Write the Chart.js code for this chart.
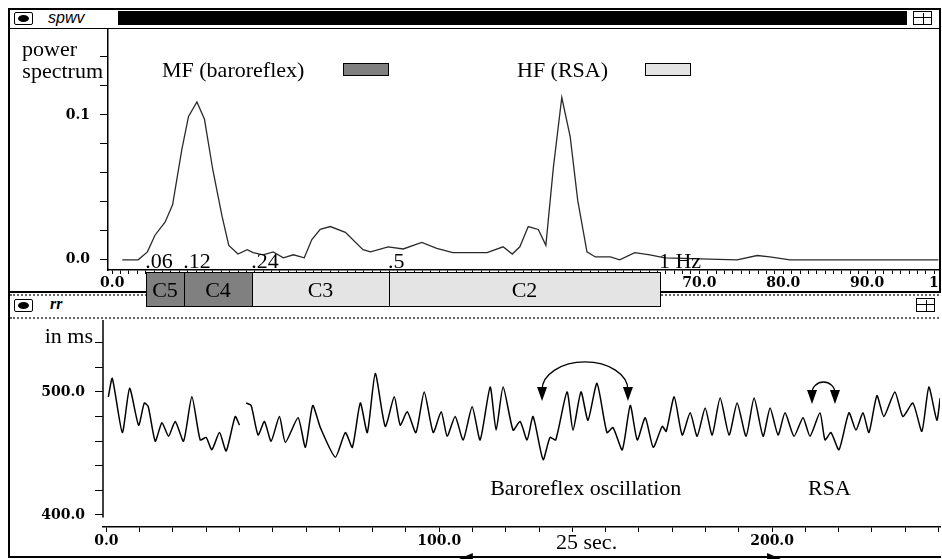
<!DOCTYPE html>
<html>
<head>
<meta charset="utf-8">
<script src="https://cdn.jsdelivr.net/npm/chart.js@4.4.0/dist/chart.umd.min.js"></script>
<style>
  body { margin: 0; width: 942px; height: 559px; background: #fff; position: relative; overflow: hidden; }
  .abs { position: absolute; }
  .frame { left: 8px; top: 8px; width: 933px; height: 285px; border: 2px solid #000; box-sizing: border-box; }
  .dots { left: 10px; width: 929px; height: 0; border-top: 2px dotted #666; }
  .icon { position: absolute; width: 19px; height: 13px; border: 1px solid #000; box-sizing: border-box; border-radius: 2px; }
  .icon span { position: absolute; left: 3px; top: 2px; width: 11px; height: 7px; background: #000; border-radius: 50%; }
  .rsz { position: absolute; width: 19px; height: 14px; border: 1px solid #000; box-sizing: border-box; }
  .rsz i { position: absolute; left: 0; top: 5px; width: 9px; height: 7px; border-top: 1px solid #000; border-right: 1px solid #000; }
  .rsz b { position: absolute; left: 9px; top: 1px; width: 7px; height: 4px; border-left: 1px solid #000; border-bottom: 1px solid #000; }
  .ttl { position: absolute; font: italic 16px "Liberation Sans", sans-serif; }
  #specBox { position: absolute; left: 0; top: 28px; width: 939px; height: 280px; overflow: hidden; z-index: 2; }
  #rr { position: absolute; left: 0; top: 318px; z-index: 1; }
</style>
</head>
<body>
<!-- window chrome -->
<div class="abs frame"></div>
<div class="abs" style="left:10px;top:28px;width:929px;height:1px;background:#000"></div>
<div class="icon" style="left:14px;top:12px"><span></span></div>
<div class="ttl" style="left:48px;top:9px">spwv</div>
<div class="abs" style="left:118px;top:11px;width:789px;height:14px;background:#000"></div>
<div class="rsz" style="left:913px;top:11px"><i></i><b></b></div>
<div class="abs dots" style="top:294px"></div>
<div class="icon" style="left:14px;top:299px"><span></span></div>
<div class="ttl" style="left:50px;top:295px;font:italic bold 16px 'Liberation Serif', serif">rr</div>
<div class="rsz" style="left:916px;top:298px"><i></i><b></b></div>
<div class="abs dots" style="top:317px"></div>
<div class="abs" style="left:8px;top:293px;width:2px;height:265px;background:#000"></div>
<div class="abs" style="left:8px;top:556px;width:933px;height:2px;background:#000"></div>

<div id="specBox"><canvas id="spec" width="980" height="280"></canvas></div>
<canvas id="rr" width="942" height="241"></canvas>

<script>
// power spectrum (x in axis units, y in power)
const spectrumFreq = [1.2, 3.1, 4.2, 5.1, 6.3, 7.2, 8.3, 9.1, 10.1, 11.0,
  12.0, 13.1, 13.9, 15.0, 16.1, 16.8, 18.0, 19.2, 20.4, 21.6,
  22.9, 23.8, 24.8, 26.0, 27.8, 29.9, 30.8, 32.9, 34.7, 36.9,
  38.7, 40.6, 42.7, 44.7, 46.6, 47.7, 48.6, 49.6, 50.8, 51.7,
  52.6, 53.6, 54.6, 55.5, 56.6, 57.6, 59.4, 60.5, 62.3, 64.1,
  65.9, 70.1, 74.5, 76.9, 78.4, 80.8, 98.5];
const spectrumPower = [0, 0, 0.0055, 0.017, 0.026, 0.038, 0.076, 0.099, 0.109, 0.097,
  0.062, 0.030, 0.010, 0.004, 0.007, 0.005, 0.0035, 0.0055, 0.0014, 0.0035,
  0.0014, 0.014, 0.021, 0.023, 0.019, 0.007, 0.0055, 0.009, 0.0075, 0.012,
  0.008, 0.005, 0.005, 0.005, 0.009, 0.004, 0.009, 0.023, 0.021, 0.010,
  0.064, 0.112, 0.085, 0.041, 0.0055, 0.002, 0.002, 0, 0.005, 0.0035,
  0.0014, 0.0007, 0, 0.003, 0.002, 0, 0];

// frequency bands under the spectrum
const bandEdges = [4.05, 8.6, 16.7, 33.0, 65.3];
const bandEdgeLabels = ['.06', '.12', '.24', '.5', '1 Hz'];
const bandNames = ['C5', 'C4', 'C3', 'C2'];
const bandGroup = ['MF', 'MF', 'HF', 'HF'];
const legendNames = { MF: 'MF (baroreflex)', HF: 'HF (RSA)' };
const groupColor = { MF: '#808080', HF: '#e4e4e4' };

const powerTicks = [0, 0.01, 0.02, 0.03, 0.04, 0.05, 0.06, 0.07, 0.08, 0.09, 0.1, 0.11, 0.12, 0.13, 0.14, 0.15];
const powerLabels = ['0.0', '0.1'];

// RR interval series, seconds / ms (null = recording gap)
const rrTime = [0.6, 1.8, 4.8, 7.0, 9.7, 11.4, 12.6, 14.7, 16.7, 18.7,
  20.7, 23.2, 25.7, 28.2, 30.0, 31.7, 34.0, 36.0, 38.7, 40.0,
  41.0, 42.0, 43.5, 45.6, 47.5, 49.5, 52.0, 53.8, 57.6, 59.8,
  62.0, 64.3, 68.8, 71.8, 73.9, 76.3, 78.4, 80.8, 83.8, 86.5,
  88.3, 90.4, 93.0, 95.5, 98.2, 100.6, 102.4, 104.8, 107.2, 109.9,
  112.3, 115.3, 117.1, 119.2, 122.2, 124.3, 126.4, 128.2, 131.2, 133.3,
  135.0, 138.4, 140.2, 142.6, 144.7, 147.4, 150.4, 152.2, 155.0, 157.4,
  159.5, 161.9, 164.3, 167.0, 168.2, 170.6, 173.0, 175.4, 177.5, 179.9,
  182.0, 184.4, 187.1, 189.5, 192.2, 194.6, 197.3, 199.4, 201.8, 203.9,
  206.6, 209.3, 211.4, 214.4, 215.9, 217.7, 220.1, 223.1, 225.2, 227.3,
  229.1, 231.5, 233.6, 236.9, 239.3, 242.3, 245.0, 247.1, 249.5, 250.5];
const rrValue = [496, 511, 467, 503, 473, 491, 488, 460, 475, 464,
  476, 460, 496, 461, 463, 453, 467, 452, 480, 473,
  null, 491, 489, 465, 476, 460, 480, 459, 479, 455,
  489, 471, 447, 467, 455, 491, 467, 515, 472, 496,
  473, 484, 467, 500, 467, 484, 464, 480, 461, 488,
  461, 504, 469, 504, 469, 476, 461, 480, 445, 463,
  461, 500, 469, 500, 477, 507, 467, 471, 453, 489,
  461, 479, 455, 472, 468, 496, 465, 483, 464, 487,
  465, 495, 465, 491, 464, 495, 464, 487, 465, 483,
  464, 479, 464, 483, 461, 467, 453, 483, 469, 483,
  467, 497, 480, 500, 480, 491, 468, 504, 477, 495];

const rrTicks = [0, 10, 20, 30, 40, 50, 60, 70, 80, 90, 100, 110, 120, 130, 140, 150, 160, 170, 180, 190, 200, 210, 220, 230, 240, 250];
const rrTickLabels = ['0.0', '100.0', '200.0'];
const msTicks = [400, 410, 420, 430, 440, 450, 460, 470, 480, 490, 500, 510, 520, 530, 540, 550];
const msLabels = ['400.0', '500.0'];

const serif = '22px "Liberation Serif", serif';
const tickFont = { family: 'DejaVu Serif', weight: 'bold', size: 14 };

const fmt1 = v => (Math.round(v * 100) / 100).toFixed(1);

// keep the plot area fixed: no extra room for tick label overhang
const noPad = s => { s.paddingTop = 0; s.paddingBottom = 0; s.paddingLeft = 0; s.paddingRight = 0; };

// legend, band boxes and axis titles of the spectrum panel
const spectrumNotes = {
  id: 'spectrumNotes',
  afterDraw(chart) {
    const { ctx, scales: { x } } = chart;
    ctx.save();
    ctx.fillStyle = '#000';
    ctx.font = serif;
    ctx.textBaseline = 'alphabetic';
    ctx.textAlign = 'left';
    ctx.fillText('power', 22, 28);
    ctx.textAlign = 'right';
    ctx.fillText('spectrum', 103, 50);

    // legend
    ctx.textAlign = 'left';
    [['MF', 162, 343], ['HF', 517, 645]].forEach(([g, tx, bx]) => {
      ctx.fillStyle = '#000';
      ctx.fillText(legendNames[g], tx, 49);
      ctx.fillStyle = groupColor[g];
      ctx.fillRect(bx, 35, 45, 12);
      ctx.strokeStyle = '#000';
      ctx.lineWidth = 1;
      ctx.strokeRect(bx + 0.5, 35.5, 45, 12);
    });

    // band boxes
    bandNames.forEach((name, i) => {
      const x0 = Math.round(x.getPixelForValue(bandEdges[i]));
      const x1 = Math.round(x.getPixelForValue(bandEdges[i + 1]));
      ctx.fillStyle = groupColor[bandGroup[i]];
      ctx.fillRect(x0, 244, x1 - x0, 34);
      ctx.strokeStyle = '#000';
      ctx.lineWidth = 1;
      ctx.strokeRect(x0 + 0.5, 244.5, x1 - x0, 34);
      ctx.fillStyle = '#000';
      ctx.textAlign = 'center';
      ctx.fillText(name, (x0 + x1) / 2, 269);
    });

    // band edge frequencies
    ctx.textAlign = 'left';
    bandEdgeLabels.forEach((lab, i) => {
      ctx.fillText(lab, x.getPixelForValue(bandEdges[i]) - 1, 240);
    });
    ctx.restore();
  }
};

new Chart(document.getElementById('spec'), {
  type: 'line',
  data: {
    datasets: [{
      data: spectrumFreq.map((f, i) => ({ x: f, y: spectrumPower[i] })),
      borderColor: '#2a2a2a',
      borderWidth: 1.3,
      pointRadius: 0,
      tension: 0
    }]
  },
  options: {
    responsive: false,
    animation: false,
    layout: { padding: { top: 2, right: 29, left: 0, bottom: 0 } },
    plugins: { legend: { display: false }, tooltip: { enabled: false } },
    scales: {
      x: {
        type: 'linear', min: -0.5, max: 100,
        afterBuildTicks: s => {
          const t = [];
          for (let v = 0; v <= 100; v++) t.push({ value: v });
          s.ticks = t;
        },
        afterFit: s => { s.height = 38; noPad(s); },
        grid: { drawOnChartArea: false, tickLength: 4, color: '#000', lineWidth: 1 },
        border: { color: '#000', width: 1.5 },
        ticks: {
          autoSkip: false, maxRotation: 0, padding: 1, color: '#000', font: tickFont,
          callback: v => (v % 10 === 0 ? v.toFixed(1) : '')
        }
      },
      y: {
        min: -0.007, max: 0.1586,
        afterBuildTicks: s => { s.ticks = powerTicks.map(v => ({ value: v })); },
        afterFit: s => { s.width = 108; noPad(s); },
        grid: { drawOnChartArea: false, tickLength: 8, color: '#000', lineWidth: 1 },
        border: { color: '#000', width: 1.5 },
        ticks: {
          padding: 10, color: '#000', font: tickFont,
          callback: v => (powerLabels.includes(fmt1(v)) && Math.abs(v * 10 - Math.round(v * 10)) < 1e-6 ? fmt1(v) : '')
        }
      }
    }
  },
  plugins: [spectrumNotes]
});

// annotations of the RR panel
const rrNotes = {
  id: 'rrNotes',
  afterDraw(chart) {
    const { ctx, chartArea, scales: { x, y } } = chart;
    ctx.save();
    ctx.strokeStyle = '#000';
    ctx.fillStyle = '#000';
    ctx.lineWidth = 1.5;
    ctx.beginPath();
    ctx.moveTo(chartArea.left, chartArea.top);
    ctx.lineTo(chartArea.left, y.getPixelForValue(398));
    ctx.stroke();

    ctx.font = serif;
    ctx.textAlign = 'right';
    ctx.fillText('in ms', 93, 25);
    ctx.textAlign = 'left';
    ctx.fillText('Baroreflex oscillation', x.getPixelForValue(115.3), 177);
    ctx.fillText('RSA', x.getPixelForValue(210.8), 177);
    ctx.fillText('25 sec.', x.getPixelForValue(135.1), 231);

    // curved double arrows over the oscillations
    const arc = (t0, t1, base, apex) => {
      const p0 = x.getPixelForValue(t0), p1 = x.getPixelForValue(t1);
      const yb = y.getPixelForValue(base), ya = y.getPixelForValue(apex);
      ctx.lineWidth = 1.3;
      ctx.beginPath();
      ctx.ellipse((p0 + p1) / 2, yb, (p1 - p0) / 2, yb - ya, 0, Math.PI, 2 * Math.PI);
      ctx.stroke();
      [p0, p1].forEach(p => {
        ctx.beginPath();
        ctx.moveTo(p - 5, yb - 3);
        ctx.lineTo(p + 5, yb - 3);
        ctx.lineTo(p, yb + 11);
        ctx.closePath();
        ctx.fill();
      });
    };
    arc(130.9, 156.7, 501.6, 524.4);
    arc(212.0, 218.9, 499.2, 508.1);

    // arrow heads on the bottom edge
    const h = chart.height;
    const a0 = x.getPixelForValue(105.9), a1 = x.getPixelForValue(202.7);
    ctx.beginPath();
    ctx.moveTo(a0, h); ctx.lineTo(a0 + 14, h - 6); ctx.lineTo(a0 + 14, h + 6); ctx.closePath();
    ctx.moveTo(a1, h); ctx.lineTo(a1 - 14, h - 6); ctx.lineTo(a1 - 14, h + 6); ctx.closePath();
    ctx.fill();
    ctx.restore();
  }
};

new Chart(document.getElementById('rr'), {
  type: 'line',
  data: {
    datasets: [{
      data: rrTime.map((t, i) => ({ x: t, y: rrValue[i] })),
      borderColor: '#000',
      borderWidth: 1.5,
      pointRadius: 0,
      tension: 0.2,
      spanGaps: false
    }]
  },
  options: {
    responsive: false,
    animation: false,
    layout: { padding: { top: 2, right: 2, left: 0, bottom: 0 } },
    plugins: { legend: { display: false }, tooltip: { enabled: false } },
    scales: {
      x: {
        type: 'linear', min: -1, max: 250.45,
        afterBuildTicks: s => { s.ticks = rrTicks.map(v => ({ value: v })); },
        afterFit: s => { s.height = 32; noPad(s); },
        grid: { drawOnChartArea: false, tickLength: 5, color: '#000', lineWidth: 1 },
        border: { color: '#000', width: 1.5 },
        ticks: {
          autoSkip: false, maxRotation: 0, padding: 1, color: '#000', font: tickFont,
          callback: v => (rrTickLabels.includes(v.toFixed(1)) ? v.toFixed(1) : '')
        }
      },
      y: {
        min: 390.2, max: 558.5,
        afterBuildTicks: s => { s.ticks = msTicks.map(v => ({ value: v })); },
        afterFit: s => { s.width = 103; noPad(s); },
        grid: { drawOnChartArea: false, tickLength: 8, color: '#000', lineWidth: 1 },
        border: { display: false },
        ticks: {
          padding: 10, color: '#000', font: tickFont,
          callback: v => (msLabels.includes(v.toFixed(1)) ? v.toFixed(1) : '')
        }
      }
    }
  },
  plugins: [rrNotes]
});
</script>
</body>
</html>
